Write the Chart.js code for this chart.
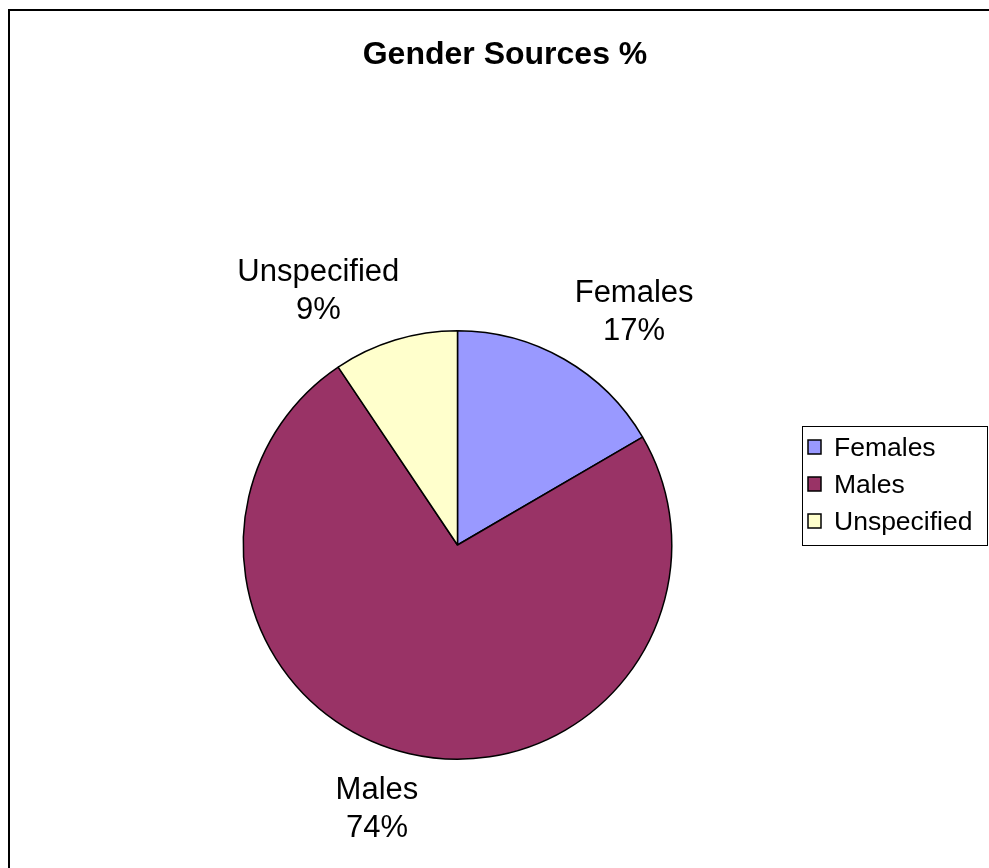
<!DOCTYPE html>
<html>
<head>
<meta charset="utf-8">
<style>
  html, body { margin: 0; padding: 0; background: #fff; }
  #wrap { width: 989px; height: 868px; position: relative; }
</style>
</head>
<body>
<div id="wrap"><canvas id="grafica"></canvas></div>
<script src="https://cdn.jsdelivr.net/npm/chart.js"></script>
<script>
// datos
const categorias = ['Females', 'Males', 'Unspecified'];
const porcentajes = [16.6, 74.0, 9.4];
const etiquetasPct = ['17%', '74%', '9%'];
const colores = ['#9999FF', '#993366', '#FFFFCC'];
const titulo = 'Gender Sources %';

const fuente = '"Liberation Sans", Arial, sans-serif';

// marco, titulo, etiquetas y leyenda al estilo Excel
const extras = {
  id: 'extras',
  afterDraw(chart) {
    const ctx = chart.ctx;
    ctx.save();

    // marco exterior (se corta a la derecha y abajo)
    ctx.strokeStyle = '#000';
    ctx.lineWidth = 2;
    ctx.strokeRect(9, 10, 1000, 1000);

    // titulo
    ctx.fillStyle = '#000';
    ctx.font = 'bold 32px ' + fuente;
    ctx.textAlign = 'center';
    ctx.textBaseline = 'alphabetic';
    ctx.fillText(titulo, 505, 64);

    // etiquetas: la esquina mas cercana del texto queda sobre el radio medio
    ctx.font = '31px ' + fuente;
    const clamp = v => Math.max(-1, Math.min(1, v));
    const meta = chart.getDatasetMeta(0);
    meta.data.forEach((arc, i) => {
      const p = arc.getProps(['x', 'y', 'startAngle', 'endAngle', 'outerRadius'], true);
      const mid = (p.startAngle + p.endAngle) / 2;
      const dx = Math.cos(mid), dy = Math.sin(mid);
      const w = Math.max(ctx.measureText(categorias[i]).width, ctx.measureText(etiquetasPct[i]).width);
      const h = 64;
      const r = p.outerRadius + 21;
      const cx = p.x + r * dx + clamp(dx * 3) * w / 2;
      const cy = p.y + r * dy + clamp(dy * 3) * h / 2;
      ctx.textAlign = 'center';
      ctx.fillText(categorias[i], cx, cy - 7);
      ctx.fillText(etiquetasPct[i], cx, cy + 31);
    });

    // leyenda
    const lx = 802, ly = 426, lw = 185, lh = 119;
    ctx.lineWidth = 1;
    ctx.strokeStyle = '#000';
    ctx.strokeRect(lx + 0.5, ly + 0.5, lw, lh);
    ctx.font = '26.5px ' + fuente;
    ctx.textAlign = 'left';
    ctx.textBaseline = 'alphabetic';
    categorias.forEach((c, i) => {
      const yy = ly + 21 + i * 37;
      ctx.fillStyle = colores[i];
      ctx.fillRect(808, yy - 7, 13, 14);
      ctx.lineWidth = 1.5;
      ctx.strokeRect(808, yy - 7, 13, 14);
      ctx.fillStyle = '#000';
      ctx.fillText(c, 834, yy + 9);
    });
    ctx.restore();
  }
};

new Chart(document.getElementById('grafica'), {
  type: 'pie',
  data: {
    labels: categorias,
    datasets: [{
      data: porcentajes,
      backgroundColor: colores,
      borderColor: '#000',
      borderWidth: 1.5,
      hoverOffset: 0
    }]
  },
  options: {
    responsive: true,
    maintainAspectRatio: false,
    animation: false,
    events: [],
    layout: {
      padding: { left: 242, right: 316, top: 330, bottom: 108 }
    },
    plugins: {
      legend: { display: false },
      tooltip: { enabled: false },
      title: { display: false }
    }
  },
  plugins: [extras]
});
</script>
</body>
</html>
